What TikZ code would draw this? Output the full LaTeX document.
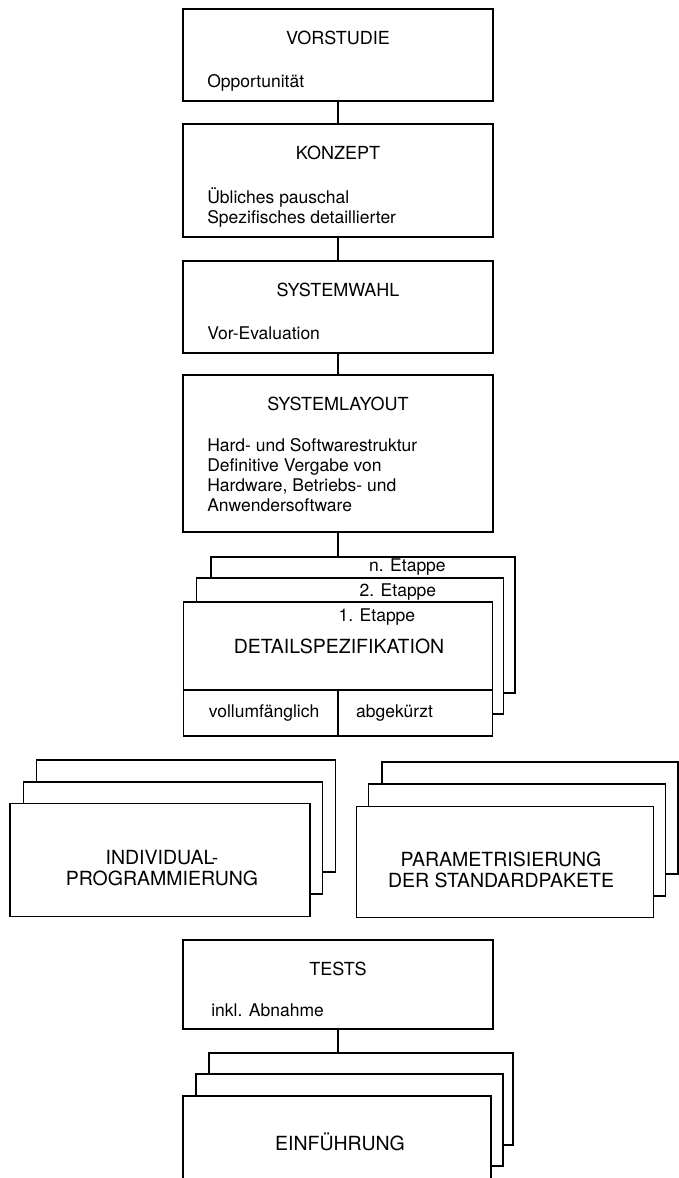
\documentclass[tikz,border=0pt]{standalone}
\usepackage{fontspec}
\setmainfont{TeX Gyre Heros}
\usetikzlibrary{positioning}

\tikzset{
  phase/.style={draw, line width=1.8pt, minimum width=310pt, inner sep=0pt},
  sheet/.style={draw, fill=white, line width=1.8pt, inner sep=0pt},
  head/.style={font=\fontsize{18}{21}\selectfont, anchor=base, inner sep=0pt},
  bighead/.style={head, font=\fontsize{19.5}{21}\selectfont},
  note/.style={font=\fontsize{17.5}{20}\selectfont, align=left, anchor=base west, inner sep=0pt}
}

\begin{document}
\begin{tikzpicture}[x=1pt, y=-1pt]
  \clip (0,0) rectangle (679,1178);
  % phases
  \node[phase, minimum height=92pt]  (vor)  at (338,55)    {};
  \node[phase, minimum height=113pt] (konz) at (338,180.5) {};
  \node[phase, minimum height=92pt]  (wahl) at (338,307)   {};
  \node[phase, minimum height=157pt] (lay)  at (338,453.5) {};
  \node[head] at ([shift={(0,36)}]vor.north)  {VORSTUDIE};
  \node[head] at ([shift={(0,36)}]konz.north) {KONZEPT};
  \node[head] at ([shift={(0,36)}]wahl.north) {SYSTEMWAHL};
  \node[head] at ([shift={(0,36)}]lay.north)  {SYSTEMLAYOUT};
  \node[note] at ([shift={(25,79)}]vor.north west)  {Opportunität};
  \node[note] at ([shift={(25,100)}]konz.north west) {Übliches pauschal\\Spezifisches detaillierter};
  \node[note] at ([shift={(25,79)}]wahl.north west) {Vor-Evaluation};
  \node[note] at ([shift={(25,137)}]lay.north west)  {Hard- und Softwarestruktur\\Definitive Vergabe von\\Hardware, Betriebs- und\\Anwendersoftware};
  % etappen
  \node[sheet, minimum width=304pt, minimum height=136pt] (et3) at (363,625) {};
  \node[sheet, minimum width=307pt, minimum height=136pt] (et2) at (350,646) {};
  \node[sheet, minimum width=309pt, minimum height=134pt] (et1) at (338,669) {};
  \draw[line width=1.8pt] ([yshift=47pt]et1.south west) -- ([yshift=47pt]et1.south east)
    (et1.south) -- ++(0,-47);
  \node[note, anchor=base east] at ([shift={(-70,15)}]et3.north east) {n. Etappe};
  \node[note, anchor=base east] at ([shift={(-68,19)}]et2.north east) {2. Etappe};
  \node[note, anchor=base east] at ([shift={(-78,20)}]et1.north east) {1. Etappe};
  \node[bighead] at ([shift={(1,52)}]et1.north) {DETAILSPEZIFIKATION};
  \node[note] at ([shift={(26,-19)}]et1.south west) {vollumfänglich};
  \node[note] at ([shift={(18,-19)}]et1.south) {abgekürzt};
  % realisierung
  \node[sheet, minimum width=299pt, minimum height=112pt] (ind3) at (186,816) {};
  \node[sheet, minimum width=299pt, minimum height=112pt] (ind2) at (173,838) {};
  \node[sheet, minimum width=300pt, minimum height=113pt] (ind1) at (160,860) {};
  \node[sheet, minimum width=296pt, minimum height=112pt] (par3) at (530,818) {};
  \node[sheet, minimum width=297pt, minimum height=112pt] (par2) at (517,840) {};
  \node[sheet, minimum width=297pt, minimum height=111pt] (par1) at (505,862) {};
  \node[bighead, anchor=center, align=center] at ([shift={(2,8)}]ind1.center) {INDIVIDUAL-\\PROGRAMMIERUNG};
  \node[bighead, anchor=center, align=center] at ([shift={(-4,8)}]par1.center) {PARAMETRISIERUNG\\DER STANDARDPAKETE};
  % tests, einfuehrung
  \node[phase, minimum height=89pt] (tests) at (338,984.5) {};
  \node[head] at ([shift={(0,36)}]tests.north) {TESTS};
  \node[note] at ([shift={(29,77)}]tests.north west) {inkl. Abnahme};
  \node[sheet, minimum width=304pt, minimum height=92pt] (ein3) at (361,1099) {};
  \node[sheet, minimum width=307pt, minimum height=92pt] (ein2) at (349.5,1120) {};
  \node[sheet, minimum width=308pt, minimum height=92pt] (ein1) at (337,1142) {};
  \node[bighead, anchor=center] at ([shift={(3,0)}]ein1.center) {EINFÜHRUNG};
  % verbindungen
  \path[line width=1.8pt]
    (vor) edge (konz)
    (konz) edge (wahl)
    (wahl) edge (lay)
    (lay.south) edge (lay.south |- et3.north)
    (tests.south) edge (tests.south |- ein3.north);
\end{tikzpicture}
\end{document}
